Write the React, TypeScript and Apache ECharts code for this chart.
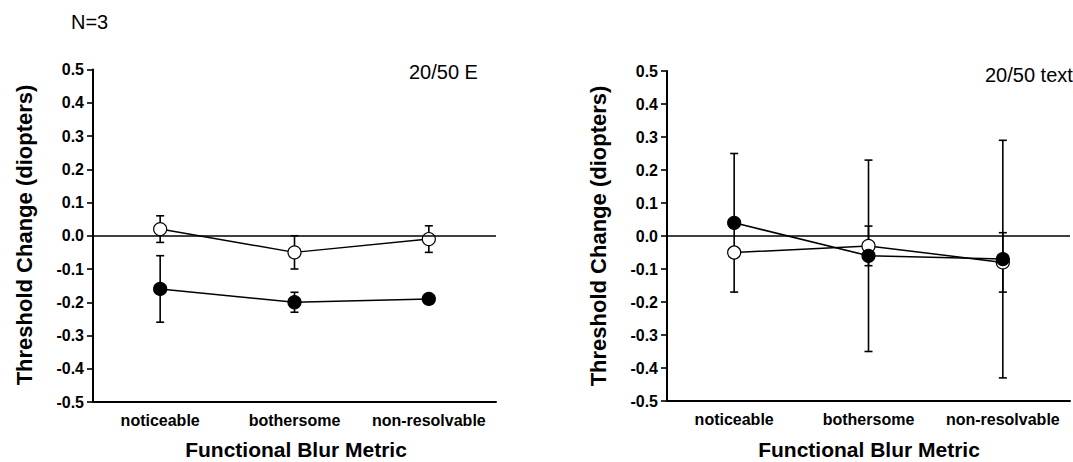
import React, { useEffect, useRef } from "react";
import * as echarts from "echarts";

const categories = ["noticeable", "bothersome", "non-resolvable"];
const yTicks = [-0.5, -0.4, -0.3, -0.2, -0.1, 0.0, 0.1, 0.2, 0.3, 0.4, 0.5];

// Left panel: 20/50 E
const leftOpen = [0.02, -0.05, -0.01];
const leftOpenLow = [-0.02, -0.1, -0.05];
const leftOpenHigh = [0.06, 0.0, 0.03];
const leftFilled = [-0.16, -0.2, -0.19];
const leftFilledLow = [-0.26, -0.23, -0.205];
const leftFilledHigh = [-0.06, -0.17, -0.175];

// Right panel: 20/50 text
const rightOpen = [-0.05, -0.03, -0.08];
const rightOpenLow = [-0.05, -0.09, -0.17];
const rightOpenHigh = [-0.05, 0.03, 0.01];
const rightFilled = [0.04, -0.06, -0.07];
const rightFilledLow = [-0.17, -0.35, -0.43];
const rightFilledHigh = [0.25, 0.23, 0.29];

const FONT = "'Liberation Sans', Arial, Helvetica, sans-serif";

function errData(low: number[], high: number[]) {
  return low.map((l, i) => [i, l, high[i]]);
}

function errSeries(idx: number, low: number[], high: number[]) {
  return {
    type: "custom",
    xAxisIndex: idx,
    yAxisIndex: idx,
    z: 2,
    silent: true,
    data: errData(low, high),
    renderItem: (params: any, api: any) => {
      const x = api.value(0);
      const lo = api.value(1);
      const hi = api.value(2);
      if (lo === hi) return null;
      const pLo = api.coord([x, lo]);
      const pHi = api.coord([x, hi]);
      const cw = 4;
      const style = { stroke: "#000", lineWidth: 1.6 };
      return {
        type: "group",
        children: [
          { type: "line", shape: { x1: pLo[0], y1: pLo[1], x2: pHi[0], y2: pHi[1] }, style },
          { type: "line", shape: { x1: pLo[0] - cw, y1: pLo[1], x2: pLo[0] + cw, y2: pLo[1] }, style },
          { type: "line", shape: { x1: pHi[0] - cw, y1: pHi[1], x2: pHi[0] + cw, y2: pHi[1] }, style },
        ],
      };
    },
  };
}

function lineSeries(idx: number, data: number[], filled: boolean, withZero: boolean) {
  const s: any = {
    type: "line",
    xAxisIndex: idx,
    yAxisIndex: idx,
    z: 2,
    data,
    symbol: "circle",
    symbolSize: 13,
    lineStyle: { color: "#000", width: 1.5 },
    itemStyle: { color: filled ? "#000" : "#fff", borderColor: "#000", borderWidth: 1.2 },
    silent: true,
  };
  if (withZero) {
    s.markLine = {
      silent: true,
      symbol: "none",
      label: { show: false },
      lineStyle: { color: "#000", type: "solid", width: 1.6 },
      data: [{ yAxis: 0 }],
    };
  }
  return s;
}

function xAxis(idx: number) {
  return {
    type: "category",
    gridIndex: idx,
    data: categories,
    boundaryGap: true,
    axisLine: { onZero: false, lineStyle: { color: "#000", width: 2 } },
    axisTick: { alignWithLabel: true, interval: 0, length: 6, lineStyle: { color: "#000", width: 1.6 } },
    axisLabel: { interval: 0, color: "#000", fontFamily: FONT, fontWeight: "bold", fontSize: 16, margin: 10 },
    splitLine: { show: false },
  };
}

function yAxis(idx: number) {
  return {
    type: "value",
    gridIndex: idx,
    min: -0.5,
    max: 0.5,
    interval: 0.1,
    axisLine: { show: true, lineStyle: { color: "#000", width: 2 } },
    axisTick: { show: true, length: 6, lineStyle: { color: "#000", width: 1.6 } },
    axisLabel: {
      color: "#000",
      fontFamily: FONT,
      fontWeight: "bold",
      fontSize: 16,
      margin: 9,
      formatter: (v: number) => {
        const t = yTicks.find((k) => Math.abs(k - v) < 1e-6);
        return (t !== undefined ? t : v).toFixed(1);
      },
    },
    splitLine: { show: false },
  };
}

export default function App() {
  const ref = useRef<HTMLDivElement>(null);
  useEffect(() => {
    document.body.style.margin = "0";
    if (!ref.current) return;
    const chart = echarts.init(ref.current, undefined, { renderer: "svg" });
    const titleStyle = { fill: "#000", fontFamily: FONT, fontWeight: "bold", fontSize: 21 };
    chart.setOption({
      animation: false,
      backgroundColor: "#fff",
      grid: [
        { left: 93, top: 69.5, width: 403, height: 332.5, containLabel: false },
        { left: 667, top: 71, width: 403, height: 330, containLabel: false },
      ],
      xAxis: [xAxis(0), xAxis(1)],
      yAxis: [yAxis(0), yAxis(1)],
      series: [
        errSeries(0, leftOpenLow, leftOpenHigh),
        lineSeries(0, leftOpen, false, true),
        errSeries(0, leftFilledLow, leftFilledHigh),
        lineSeries(0, leftFilled, true, false),
        errSeries(1, rightOpenLow, rightOpenHigh),
        lineSeries(1, rightOpen, false, true),
        errSeries(1, rightFilledLow, rightFilledHigh),
        lineSeries(1, rightFilled, true, false),
      ],
      graphic: [
        {
          type: "text",
          left: 71,
          top: 12,
          style: { text: "N=3", fill: "#000", fontFamily: FONT, fontSize: 20 },
        },
        {
          type: "text",
          left: 409,
          top: 62,
          style: { text: "20/50 E", fill: "#000", fontFamily: FONT, fontSize: 20 },
        },
        {
          type: "text",
          left: 985,
          top: 65,
          style: { text: "20/50 text", fill: "#000", fontFamily: FONT, fontSize: 20 },
        },
        {
          type: "text",
          x: 24,
          y: 235,
          rotation: Math.PI / 2,
          style: { ...titleStyle, fontSize: 22, text: "Threshold Change (diopters)", align: "center", verticalAlign: "middle" },
        },
        {
          type: "text",
          x: 598,
          y: 236,
          rotation: Math.PI / 2,
          style: { ...titleStyle, fontSize: 22, text: "Threshold Change (diopters)", align: "center", verticalAlign: "middle" },
        },
        {
          type: "text",
          x: 296,
          y: 449,
          style: { ...titleStyle, text: "Functional Blur Metric", align: "center", verticalAlign: "middle" },
        },
        {
          type: "text",
          x: 869,
          y: 449,
          style: { ...titleStyle, text: "Functional Blur Metric", align: "center", verticalAlign: "middle" },
        },
      ],
    });
    return () => chart.dispose();
  }, []);
  return <div ref={ref} style={{ width: 1073, height: 462 }} />;
}
